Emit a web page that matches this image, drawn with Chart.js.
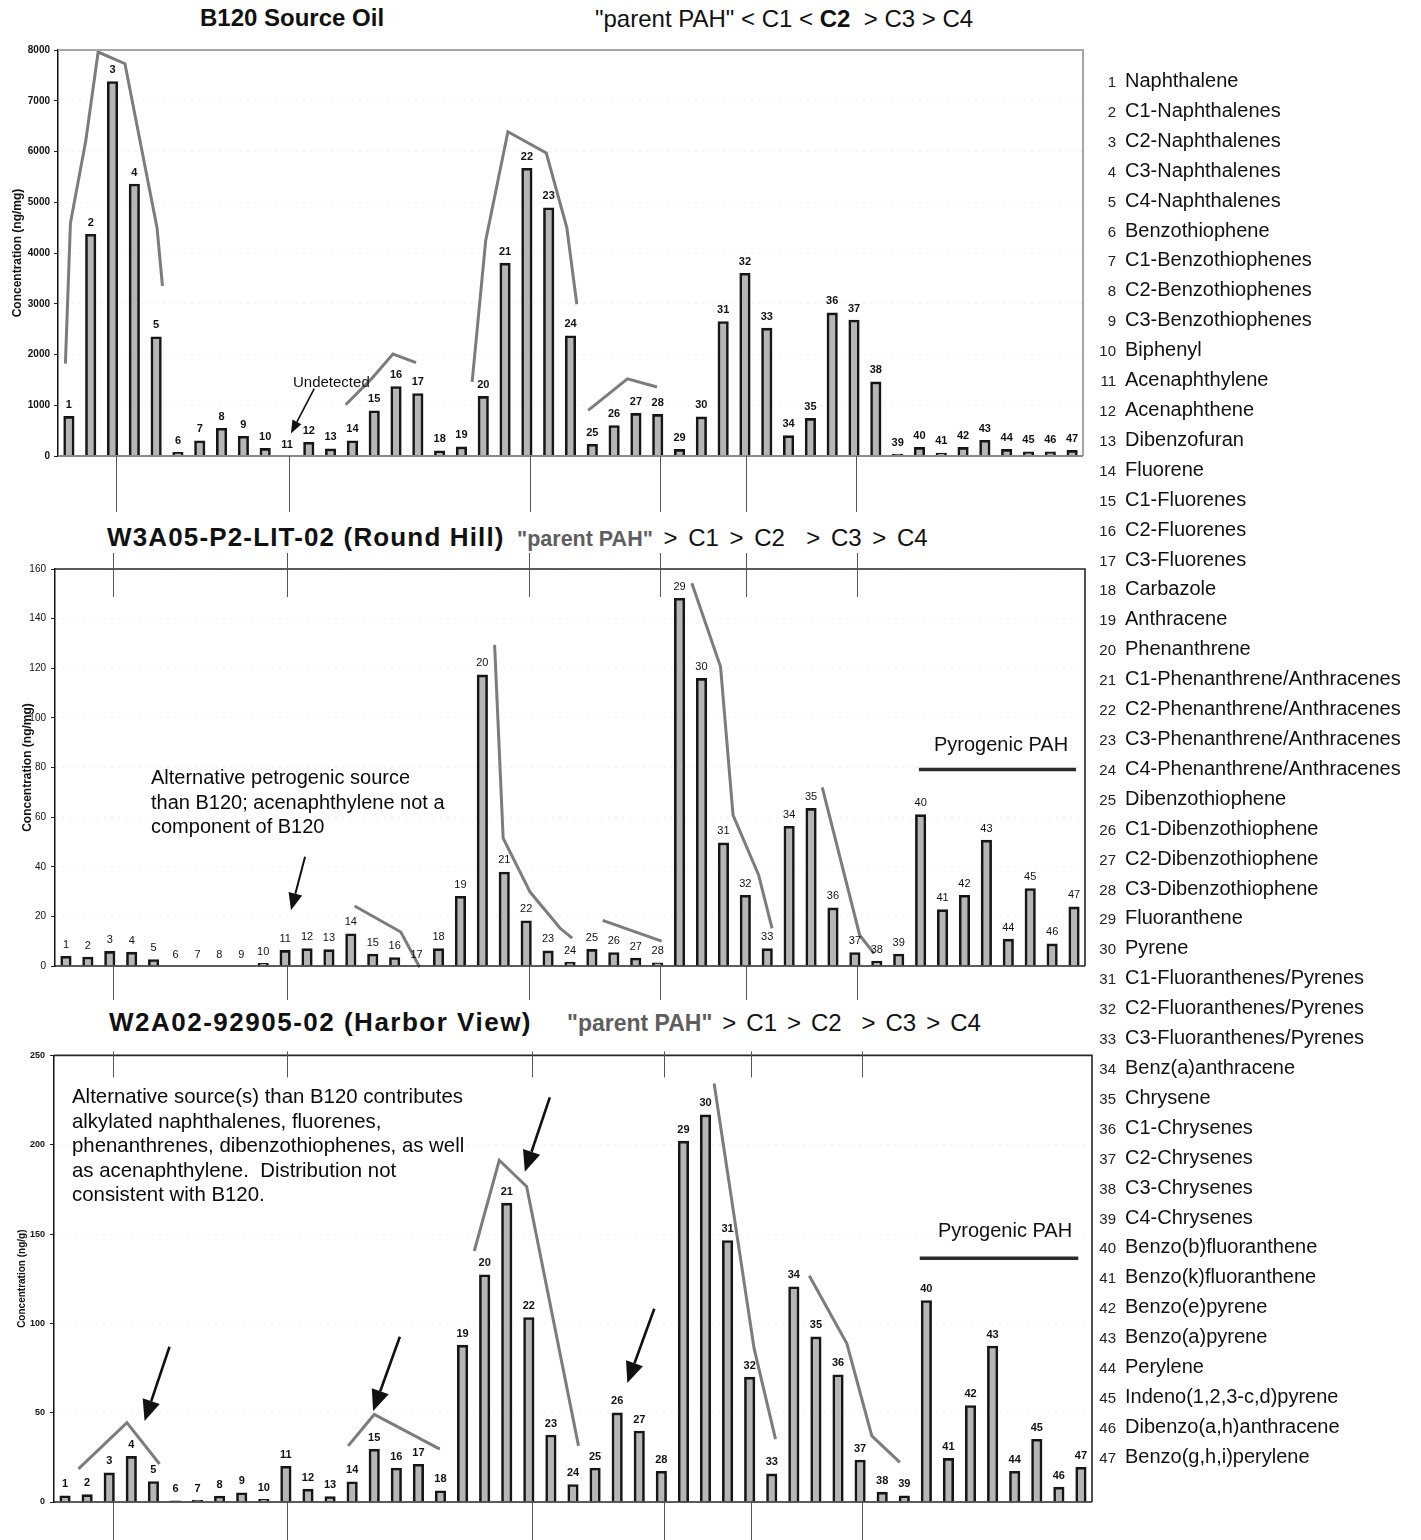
<!DOCTYPE html>
<html>
<head>
<meta charset="utf-8">
<title>PAH distributions</title>
<script src="https://cdn.jsdelivr.net/npm/chart.js@4.4.1/dist/chart.umd.min.js"></script>
<style>
  html, body { margin: 0; padding: 0; background: #fff; }
  body {
    width: 1421px; height: 1540px; position: relative; overflow: hidden;
    font-family: "Liberation Sans", Arial, sans-serif; color: #111;
  }
  canvas { position: absolute; left: 0; }
  .abs { position: absolute; white-space: nowrap; line-height: 1; transform: translateY(-50%); }
  .head { font-weight: bold; font-size: 26px; }
  .pp { font-weight: bold; color: #5e5e5e; }
  .note { position: absolute; white-space: nowrap; font-size: 20px; line-height: 24.6px; color: #0a0a0a; }
  .pyro { font-size: 20px; }
  .key { position: absolute; left: 1090px; white-space: nowrap; line-height: 1; transform: translateY(-50%); }
  .key .num { display: inline-block; width: 26px; text-align: right; font-size: 15px; color: #222; }
  .key .name { margin-left: 9px; font-size: 20px; }
</style>
</head>
<body>

<div class="abs" style="left:200px;top:18px;font-weight:bold;font-size:24px">B120 Source Oil</div>
<div class="abs" style="left:595px;top:19px;font-size:24px">"parent PAH" &lt; C1 &lt; <b>C2</b>&nbsp; &gt; C3 &gt; C4</div>
<canvas id="oil" width="1100" height="480" style="top:40px"></canvas>
<div class="abs" style="left:293px;top:381px;font-size:15px">Undetected</div>

<div class="abs head" style="left:107px;top:537px;letter-spacing:1.15px">W3A05-P2-LIT-02 (Round Hill)</div>
<div class="abs" style="left:517px;top:538px;font-size:24px;word-spacing:4px"><span class="pp" style="font-size:21.5px;word-spacing:0">"parent PAH"</span> &gt; C1 &gt; C2&nbsp; &gt; C3 &gt; C4</div>
<canvas id="roundHill" width="1100" height="455" style="top:550px"></canvas>
<div class="note" style="left:151px;top:765px">Alternative petrogenic source<br>than B120; acenaphthylene not a<br>component of B120</div>
<div class="abs pyro" style="left:934px;top:744px">Pyrogenic PAH</div>

<div class="abs head" style="left:109px;top:1022px;letter-spacing:1.5px">W2A02-92905-02 (Harbor View)</div>
<div class="abs" style="left:567px;top:1023px;font-size:24px;word-spacing:3.3px"><span class="pp" style="font-size:23px;word-spacing:0">"parent PAH"</span> &gt; C1 &gt; C2&nbsp; &gt; C3 &gt; C4</div>
<canvas id="harbor" width="1100" height="495" style="top:1045px"></canvas>
<div class="note" style="left:72px;top:1084px;font-size:20.4px">Alternative source(s) than B120 contributes<br>alkylated naphthalenes, fluorenes,<br>phenanthrenes, dibenzothiophenes, as well<br>as acenaphthylene.&nbsp; Distribution not<br>consistent with B120.</div>
<div class="abs pyro" style="left:938px;top:1230px">Pyrogenic PAH</div>

<div id="legend"></div>

<script>
// compound list, numbered 1..47 on the bars and in the key
const compounds = [
  "Naphthalene", "C1-Naphthalenes", "C2-Naphthalenes", "C3-Naphthalenes", "C4-Naphthalenes",
  "Benzothiophene", "C1-Benzothiophenes", "C2-Benzothiophenes", "C3-Benzothiophenes",
  "Biphenyl", "Acenaphthylene", "Acenaphthene", "Dibenzofuran",
  "Fluorene", "C1-Fluorenes", "C2-Fluorenes", "C3-Fluorenes", "Carbazole",
  "Anthracene", "Phenanthrene",
  "C1-Phenanthrene/Anthracenes", "C2-Phenanthrene/Anthracenes",
  "C3-Phenanthrene/Anthracenes", "C4-Phenanthrene/Anthracenes",
  "Dibenzothiophene", "C1-Dibenzothiophene", "C2-Dibenzothiophene", "C3-Dibenzothiophene",
  "Fluoranthene", "Pyrene",
  "C1-Fluoranthenes/Pyrenes", "C2-Fluoranthenes/Pyrenes", "C3-Fluoranthenes/Pyrenes",
  "Benz(a)anthracene", "Chrysene", "C1-Chrysenes", "C2-Chrysenes", "C3-Chrysenes", "C4-Chrysenes",
  "Benzo(b)fluoranthene", "Benzo(k)fluoranthene", "Benzo(e)pyrene", "Benzo(a)pyrene",
  "Perylene", "Indeno(1,2,3-c,d)pyrene", "Dibenzo(a,h)anthracene", "Benzo(g,h,i)perylene"
];
const compoundNo = compounds.map((_, i) => i + 1);

// B120 source oil, ng/mg
const oilValues = [
  780, 4370, 7380, 5360, 2350, 70, 300, 545, 390, 150,
  0, 270, 140, 300, 890, 1370, 1230, 100, 180, 1175,
  3800, 5670, 4890, 2370, 230, 600, 840, 820, 130, 770,
  2650, 3600, 2520, 400, 740, 2820, 2680, 1460, 40, 170,
  60, 170, 310, 130, 80, 80, 110
];
// W3A05-P2-LIT-02, ng/mg
const roundHillValues = [
  3.9, 3.6, 5.9, 5.6, 2.6, 0, 0, 0, 0, 1.1,
  6.3, 7.0, 6.6, 13.0, 4.8, 3.4, 0, 7.0, 28.1, 117.3,
  37.9, 18.2, 6.1, 1.6, 6.7, 5.4, 3.2, 1.3, 148.2, 115.9,
  49.6, 28.5, 7.0, 56.3, 63.5, 23.4, 5.4, 2.0, 4.8, 61.0,
  22.7, 28.5, 50.7, 10.8, 31.2, 8.9, 23.8
];
// W2A02-92905-02, ng/g
const harborValues = [
  3.5, 4.1, 16.3, 25.5, 11.5, 0.6, 0.9, 3.3, 5.2, 1.5,
  20.0, 7.2, 3.0, 11.3, 29.6, 19.0, 21.1, 6.3, 87.8, 127.2,
  167.3, 103.3, 37.5, 9.8, 19.0, 49.9, 39.7, 17.2, 202, 216.7,
  146.4, 69.9, 15.7, 120.5, 92.4, 71.2, 23.5, 5.5, 3.5, 112.8,
  24.4, 54.0, 87.3, 17.2, 35.1, 8.3, 19.4
];

const oilTicks = { max: 8000, step: 1000 };
const roundHillTicks = { max: 160, step: 20 };
const harborTicks = { max: 250, step: 50 };

// hand-drawn trend strokes over the alkyl series, [compound position, concentration]
const oilTrends = [
  [[0.84, 1820], [1.07, 4590], [1.77, 6200], [2.34, 7960], [3.57, 7730], [5.04, 4500], [5.29, 3350]],
  [[13.69, 1010], [14.87, 1520], [15.86, 2010], [16.92, 1840]],
  [[19.49, 1460], [20.11, 4240], [21.13, 6390], [22.89, 5970], [23.83, 4500], [24.29, 2990]],
  [[24.81, 900], [26.61, 1520], [27.97, 1360]]
];
const roundHillTrends = [
  [[14.17, 24.2], [16.28, 13.7], [17.14, -0.5]],
  [[20.56, 129.4], [20.95, 51.5], [22.18, 29.8], [23.55, 15.2], [24.1, 11.2]],
  [[25.49, 18.4], [28.18, 10.0]],
  [[29.56, 154.3], [30.87, 120.6], [31.44, 60.8], [32.61, 36.6], [33.22, 15.2]],
  [[35.51, 72.0], [37.22, 12.4], [37.88, 5.0]]
];
const harborTrends = [
  [[1.61, 18.5], [3.8, 44.4], [5.28, 21.3]],
  [[13.82, 31.4], [15.0, 49.0], [17.97, 29.6]],
  [[19.53, 140.5], [20.66, 191.3], [21.9, 176.6], [24.25, 31.4]],
  [[30.39, 234.3], [32.2, 86.0], [33.17, 35.2]],
  [[34.7, 126.7], [36.4, 88.7], [37.53, 37.0], [38.8, 22.2]]
];
// "Pyrogenic PAH" bar line
const roundHillPyro = [[39.92, 79.2], [47.09, 79.2]];
const harborPyro = [[39.7, 136.4], [46.88, 136.4]];

// arrows: from -> to
const oilArrows = [{ from: [12.25, 1327], to: [11.18, 445] }];
const roundHillArrows = [{ from: [11.91, 44.0], to: [11.27, 22.5] }];
const harborArrows = [
  { from: [5.73, 86.9], to: [4.6, 45.3] },
  { from: [16.16, 92.5], to: [14.95, 50.9] },
  { from: [22.95, 226.5], to: [21.82, 184.9] },
  { from: [27.68, 108.2], to: [26.46, 66.6] }
];

// vertical tie lines running between the three panels
const guideX = [3.15, 11.07, 22.13, 28.1, 32.05, 37.1];

function drawArrow(ctx, x1, y1, x2, y2, lw, headLen, headW) {
  const ang = Math.atan2(y2 - y1, x2 - x1);
  const bx = x2 - headLen * Math.cos(ang);
  const by = y2 - headLen * Math.sin(ang);
  ctx.lineWidth = lw;
  ctx.beginPath();
  ctx.moveTo(x1, y1);
  ctx.lineTo(bx, by);
  ctx.stroke();
  ctx.beginPath();
  ctx.moveTo(x2, y2);
  ctx.lineTo(bx + headW / 2 * Math.sin(ang), by - headW / 2 * Math.cos(ang));
  ctx.lineTo(bx - headW / 2 * Math.sin(ang), by + headW / 2 * Math.cos(ang));
  ctx.closePath();
  ctx.fill();
}

const panelDecor = {
  id: 'panelDecor',
  afterDatasetsDraw(chart, args, o) {
    const { ctx, chartArea: a, scales: { x, y } } = chart;
    ctx.save();

    // plot frame
    ctx.lineWidth = o.frameWidth;
    ctx.strokeStyle = o.frameColor;
    ctx.beginPath();
    ctx.moveTo(a.left, a.top);
    ctx.lineTo(a.right, a.top);
    ctx.lineTo(a.right, a.bottom);
    ctx.stroke();
    ctx.strokeStyle = o.baseColor;
    ctx.beginPath();
    ctx.moveTo(a.left, a.bottom);
    ctx.lineTo(a.right, a.bottom);
    ctx.stroke();

    // tie lines
    ctx.strokeStyle = '#555';
    ctx.lineWidth = 1;
    guideX.forEach(v => {
      const px = Math.round(x.getPixelForValue(v)) + 0.5;
      ctx.beginPath();
      if (o.guideAbove) {
        ctx.moveTo(px, a.top - o.guideAbove[0]);
        ctx.lineTo(px, a.top + o.guideAbove[1]);
      }
      if (o.guideBelow) {
        ctx.moveTo(px, a.bottom);
        ctx.lineTo(px, a.bottom + o.guideBelow);
      }
      ctx.stroke();
    });

    // compound number over each bar
    const meta = chart.getDatasetMeta(0);
    ctx.font = o.labelFont;
    ctx.fillStyle = '#111';
    ctx.textAlign = 'center';
    ctx.textBaseline = 'bottom';
    meta.data.forEach((bar, i) => {
      ctx.fillText(String(compoundNo[i]), bar.x, bar.y - 6);
    });

    // arrows
    ctx.strokeStyle = '#111';
    ctx.fillStyle = '#111';
    (o.arrows || []).forEach(ar => {
      drawArrow(ctx,
        x.getPixelForValue(ar.from[0]), y.getPixelForValue(ar.from[1]),
        x.getPixelForValue(ar.to[0]), y.getPixelForValue(ar.to[1]),
        o.arrowStyle[0], o.arrowStyle[1], o.arrowStyle[2]);
    });
    ctx.restore();
  }
};

function makePanel(id, p) {
  const datasets = [{
    type: 'bar',
    data: p.values.map((v, i) => ({ x: compoundNo[i], y: v })),
    backgroundColor: '#b6b6b6',
    borderColor: '#161616',
    borderWidth: 2.6,
    barThickness: 10.5,
    order: 3
  }];
  p.trends.forEach(t => datasets.push({
    type: 'line',
    data: t.map(([x, y]) => ({ x, y })),
    borderColor: '#7c7c7c',
    borderWidth: 3,
    pointRadius: 0,
    tension: 0,
    clip: false,
    order: 2
  }));
  if (p.pyro) {
    datasets.push({
      type: 'line',
      data: p.pyro.map(([x, y]) => ({ x, y })),
      borderColor: '#2b2b2b',
      borderWidth: 3.5,
      pointRadius: 0,
      order: 1
    });
  }

  return new Chart(document.getElementById(id), {
    type: 'bar',
    data: { datasets },
    options: {
      responsive: false,
      animation: false,
      events: [],
      layout: { padding: p.padding },
      plugins: {
        legend: { display: false },
        tooltip: { enabled: false },
        panelDecor: p.decor
      },
      scales: {
        x: {
          type: 'linear',
          min: 0.5,
          max: 47.5,
          offset: false,
          display: false
        },
        y: {
          min: 0,
          max: p.ticks.max,
          afterFit: s => { s.width = p.axisWidth; },
          ticks: {
            stepSize: p.ticks.step,
            format: { useGrouping: false },
            color: '#111',
            padding: p.tickPad,
            font: { family: '"Liberation Sans", Arial, sans-serif', size: p.tickFont[0], weight: p.tickFont[1] }
          },
          grid: {
            color: 'rgba(0,0,0,0.13)',
            tickColor: '#222',
            tickLength: 4
          },
          border: { color: '#111', width: 1.5, dash: [1, 6] },
          title: {
            display: true,
            text: p.yTitle,
            color: '#111',
            padding: { top: p.titlePad, bottom: 0 },
            font: { family: '"Liberation Sans", Arial, sans-serif', size: p.titleSize, weight: 'bold' }
          }
        }
      }
    },
    plugins: [panelDecor]
  });
}

makePanel('oil', {
  values: oilValues,
  trends: oilTrends,
  ticks: oilTicks,
  padding: { left: 0, right: 17, top: 8, bottom: 64 },
  axisWidth: 58,
  tickPad: 4,
  tickFont: [10, 'bold'],
  yTitle: 'Concentration (ng/mg)',
  titleSize: 12,
  titlePad: 10,
  decor: {
    frameColor: '#a6a6a6', frameWidth: 2, baseColor: '#8a8a8a',
    guideBelow: 56,
    labelFont: 'bold 11px "Liberation Sans", Arial, sans-serif',
    arrows: oilArrows, arrowStyle: [1.6, 13, 10]
  }
});

makePanel('roundHill', {
  values: roundHillValues,
  trends: roundHillTrends,
  pyro: roundHillPyro,
  ticks: roundHillTicks,
  padding: { left: 0, right: 15, top: 19, bottom: 39 },
  axisWidth: 55,
  tickPad: 5,
  tickFont: [10, 'normal'],
  yTitle: 'Concentration (ng/mg)',
  titleSize: 12,
  titlePad: 20,
  decor: {
    frameColor: '#262626', frameWidth: 1.6, baseColor: '#262626',
    guideAbove: [16, 28], guideBelow: 34,
    labelFont: '11px "Liberation Sans", Arial, sans-serif',
    arrows: roundHillArrows, arrowStyle: [2, 17, 14]
  }
});

makePanel('harbor', {
  values: harborValues,
  trends: harborTrends,
  pyro: harborPyro,
  ticks: harborTicks,
  padding: { left: 0, right: 8, top: 6, bottom: 38 },
  axisWidth: 54,
  tickPad: 5,
  tickFont: [9, 'bold'],
  yTitle: 'Concentration (ng/g)',
  titleSize: 10,
  titlePad: 16,
  decor: {
    frameColor: '#262626', frameWidth: 1.6, baseColor: '#262626',
    guideAbove: [4, 22], guideBelow: 38,
    labelFont: 'bold 11px "Liberation Sans", Arial, sans-serif',
    arrows: harborArrows, arrowStyle: [2.6, 21, 18]
  }
});

// numbered key down the right side
const legendBox = document.getElementById('legend');
compounds.forEach((name, i) => {
  const row = document.createElement('div');
  row.className = 'key';
  row.style.top = (80 + i * 29.91) + 'px';
  row.innerHTML = '<span class="num">' + (i + 1) + '</span><span class="name">' + name + '</span>';
  legendBox.appendChild(row);
});
</script>
</body>
</html>
